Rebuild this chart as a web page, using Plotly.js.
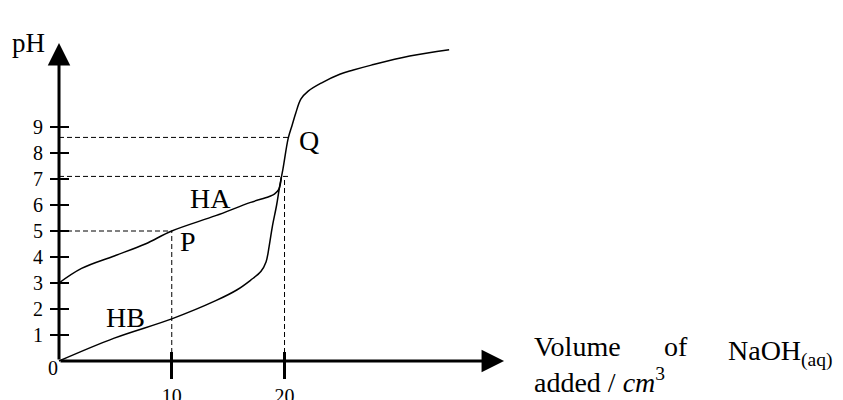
<!DOCTYPE html>
<html>
<head>
<meta charset="utf-8">
<script src="https://cdn.plot.ly/plotly-3.0.1.min.js"></script>
<style>html,body{margin:0;padding:0;background:#fff;}#chart{width:843px;height:400px;}</style>
</head>
<body>
<div id="chart"></div>
<script>
// ---- data ----
const haVolume = [0, 2.0, 4.9, 7.65, 10, 13.9, 17.0, 18.6, 19.1, 19.49, 19.72];
const haPH     = [3.0, 3.56, 4.04, 4.5, 5.0, 5.59, 6.1, 6.32, 6.42, 6.6, 7.07];

const hbVolume = [0, 4.9, 10, 13.9, 15.8, 17.0, 17.9, 18.36, 18.64, 18.92, 19.3, 19.58, 19.86, 20.33, 20.68, 21.0, 21.46, 22.1, 23.3, 24.9, 26.1, 27.7, 31.1, 34.6];
const hbPH     = [0, 0.88, 1.62, 2.32, 2.74, 3.11, 3.44, 3.81, 4.42, 5.17, 6.0, 6.75, 7.38, 8.57, 9.08, 9.54, 10.08, 10.38, 10.7, 11.03, 11.19, 11.38, 11.73, 11.97];

const halfEqVolume = 10;   // point P
const halfEqPH = 5;
const eqVolume = 20;
const eqPH = 7.1;
const qPH = 8.6;           // point Q
const dashEndVolume = 20.4;

const yTickVals = [1, 2, 3, 4, 5, 6, 7, 8, 9];
const yTickText = ['1', '2', '3', '4', '5', '6', '7', '8', '9'];
const xTickVals = [10, 20];
const xTickText = ['10', '20'];

// ---- layout constants ----
const xRange = [-5.233, 69.53];
const yRange = [-1.5, 13.885];
const serif = 'Liberation Serif, Times New Roman, serif';

const solid = {color: 'black', width: 1.5, shape: 'spline', smoothing: 1.0};
const dashed = {color: 'black', width: 1, dash: '5px,3px'};

const traces = [
  {x: haVolume, y: haPH, mode: 'lines', line: solid, hoverinfo: 'skip'},
  {x: hbVolume, y: hbPH, mode: 'lines', line: solid, hoverinfo: 'skip'},
  {x: [0, halfEqVolume], y: [halfEqPH, halfEqPH], mode: 'lines', line: dashed, hoverinfo: 'skip'},
  {x: [halfEqVolume, halfEqVolume], y: [0, halfEqPH], mode: 'lines', line: dashed, hoverinfo: 'skip'},
  {x: [0, dashEndVolume], y: [eqPH, eqPH], mode: 'lines', line: dashed, hoverinfo: 'skip'},
  {x: [eqVolume, eqVolume], y: [0, eqPH], mode: 'lines', line: dashed, hoverinfo: 'skip'},
  {x: [0, dashEndVolume], y: [qPH, qPH], mode: 'lines', line: dashed, hoverinfo: 'skip'},
  // invisible helper so the overlay axes (inner tick halves) are created
  {x: [haVolume[0]], y: [haPH[0]], xaxis: 'x2', yaxis: 'y2', mode: 'markers',
   marker: {opacity: 0}, hoverinfo: 'skip'}
];

const tickFont = {family: serif, size: 20, color: 'black'};
const labelFont = {family: serif, size: 28, color: 'black'};

function txt(text, x, y, font, opts) {
  return Object.assign({text: text, x: x, y: y, xref: 'x', yref: 'y', showarrow: false,
    font: font, xanchor: 'center', yanchor: 'middle'}, opts || {});
}
function ptxt(text, px, py, font, opts) {
  return Object.assign({text: text, x: px / 843, y: 1 - py / 400, xref: 'paper', yref: 'paper',
    showarrow: false, font: font, xanchor: 'left', yanchor: 'middle'}, opts || {});
}

const annotations = [
  // axis arrows
  {x: 0, y: 12.23, ax: 0, ay: 0, xref: 'x', yref: 'y', axref: 'x', ayref: 'y', text: '',
   showarrow: true, arrowhead: 2, arrowsize: 1.5, arrowwidth: 3, arrowcolor: 'black'},
  {x: 39.47, y: 0, ax: 0, ay: 0, xref: 'x', yref: 'y', axref: 'x', ayref: 'y', text: '',
   showarrow: true, arrowhead: 2, arrowsize: 1.5, arrowwidth: 3, arrowcolor: 'black'},
  txt('0', -0.53, -0.27, tickFont),
  txt('pH', -2.75, 12.25, {family: serif, size: 27, color: 'black'}),
  txt('HA', 13.4, 6.25, labelFont),
  txt('P', 11.46, 4.6, labelFont),
  txt('HB', 5.94, 1.67, labelFont),
  txt('Q', 22.2, 8.5, labelFont),
  ptxt('Volume', 532, 346.5, labelFont),
  ptxt('of', 662, 346.5, labelFont),
  ptxt('NaOH<sub>(aq)</sub>', 726, 346.5, labelFont, {yanchor: 'top', y: 1 - 333 / 400}),
  ptxt('added / <i>cm</i><sup>3</sup>', 532, 399, labelFont, {yanchor: 'bottom', y: 0.0})
];

const layout = {
  width: 843, height: 400,
  margin: {l: 0, r: 0, t: 0, b: 0, pad: 0},
  paper_bgcolor: 'white', plot_bgcolor: 'white',
  showlegend: false,
  xaxis: {range: xRange, anchor: 'free', position: 39 / 400, showgrid: false, zeroline: false,
    showline: false, ticks: 'outside', ticklen: 17, tickwidth: 3, tickcolor: 'black',
    tickvals: xTickVals, ticktext: xTickText, tickfont: tickFont, fixedrange: true},
  xaxis2: {range: xRange, overlaying: 'x', anchor: 'free', position: 39 / 400, side: 'bottom',
    showgrid: false, zeroline: false, showline: false, ticks: 'inside', ticklen: 9, tickwidth: 3,
    tickcolor: 'black', tickvals: xTickVals, showticklabels: false, fixedrange: true},
  yaxis: {range: yRange, anchor: 'free', position: 59 / 843, showgrid: false, zeroline: false,
    showline: false, ticks: 'outside', ticklen: 9, tickwidth: 2.5, tickcolor: 'black',
    tickvals: yTickVals, ticktext: yTickText, tickfont: tickFont, ticklabelstandoff: 3, fixedrange: true},
  yaxis2: {range: yRange, overlaying: 'y', anchor: 'free', position: 59 / 843, side: 'left',
    showgrid: false, zeroline: false, showline: false, ticks: 'inside', ticklen: 9, tickwidth: 2.5,
    tickcolor: 'black', tickvals: yTickVals, showticklabels: false, fixedrange: true},
  annotations: annotations
};

Plotly.newPlot('chart', traces, layout, {displayModeBar: false, staticPlot: true});
</script>
</body>
</html>
